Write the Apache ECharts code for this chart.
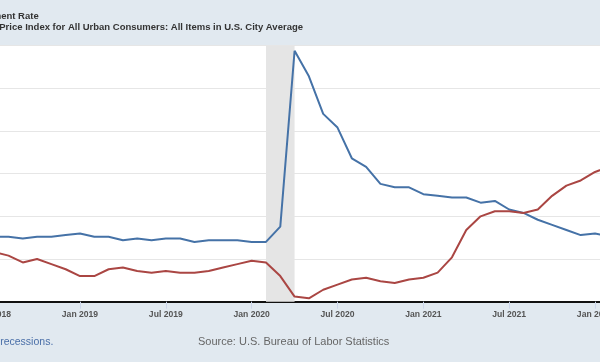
<!DOCTYPE html>
<html><head><meta charset="utf-8">
<script src="https://cdn.jsdelivr.net/npm/echarts@6/dist/echarts.min.js"></script>
<style>html,body{margin:0;padding:0;background:#e1e9f0}#c{width:600px;height:362px}</style>
</head><body><div id="c"></div>
<script>
// Monthly observations (first of month)
const months = ['2018-07','2018-08','2018-09','2018-10','2018-11','2018-12',
  '2019-01','2019-02','2019-03','2019-04','2019-05','2019-06','2019-07','2019-08','2019-09','2019-10','2019-11','2019-12',
  '2020-01','2020-02','2020-03','2020-04','2020-05','2020-06','2020-07','2020-08','2020-09','2020-10','2020-11','2020-12',
  '2021-01','2021-02','2021-03','2021-04','2021-05','2021-06','2021-07','2021-08','2021-09','2021-10','2021-11','2021-12',
  '2022-01','2022-02'];
// Unemployment Rate (%)
const unemploymentRate = [3.8,3.8,3.7,3.8,3.8,3.9,
  4.0,3.8,3.8,3.6,3.7,3.6,3.7,3.7,3.5,3.6,3.6,3.6,
  3.5,3.5,4.4,14.7,13.2,11.0,10.2,8.4,7.9,6.9,6.7,6.7,
  6.3,6.2,6.1,6.1,5.8,5.9,5.4,5.2,4.8,4.5,4.2,3.9,
  4.0,3.8];
// CPI-U, percent change from year ago
const cpiChange = [2.9,2.7,2.3,2.5,2.2,1.9,
  1.5,1.5,1.9,2.0,1.8,1.7,1.8,1.7,1.7,1.8,2.0,2.2,
  2.4,2.3,1.5,0.3,0.2,0.7,1.0,1.3,1.4,1.2,1.1,1.3,
  1.4,1.7,2.6,4.2,5.0,5.3,5.3,5.2,5.4,6.2,6.8,7.1,
  7.6,7.9];
const tickLabels = ['Jul 2018','Jan 2019','Jul 2019','Jan 2020','Jul 2020','Jan 2021','Jul 2021','Jan 2022','Jul 2022'];
const recession = ['2020-02','2020-04'];
const legendNames = ['Unemployment Rate','Consumer Price Index for All Urban Consumers: All Items in U.S. City Average'];
const sourceText = 'Source: U.S. Bureau of Labor Statistics';
const noteText = 'Shaded areas indicate U.S. recessions.';

function idx(s){const [y,m]=s.split('-').map(Number);return (y-2018)*12+(m-1);}
const FONT = "'Liberation Sans', Arial, sans-serif";

const chart = echarts.init(document.getElementById('c'));
chart.setOption({
  animation:false,
  backgroundColor:'#e1e9f0',
  grid:{left:-5.84,right:-80.86,top:45.6,bottom:60.3,outerBoundsMode:'none',containLabel:false,
    show:true,backgroundColor:'#ffffff',borderWidth:0},
  xAxis:{type:'value',min:6,max:54,interval:6,
    axisLine:{show:true,lineStyle:{color:'#111',width:2}},
    axisTick:{show:true,length:7,lineStyle:{color:'#ccd6eb',width:1}},
    splitLine:{show:false},
    axisLabel:{margin:8,fontSize:8.6,fontWeight:'bold',color:'#555',fontFamily:FONT,
      formatter:v=>{const i=(v-6)/6;return Number.isInteger(i)&&tickLabels[i]?tickLabels[i]:'';}}},
  yAxis:{type:'value',min:0,max:15,interval:2.5,
    axisLabel:{show:false},axisLine:{show:false},axisTick:{show:false},
    splitLine:{show:true,lineStyle:{color:'#e6e6e6',width:1}}},
  series:[
    {type:'line',data:[],silent:true,z:1,
      markArea:{silent:true,itemStyle:{color:'#e5e5e5'},data:[[{xAxis:idx(recession[0])},{xAxis:idx(recession[1])}]]}},
    {name:legendNames[0],type:'line',z:3,showSymbol:false,symbol:'none',
      lineStyle:{color:'#4572a7',width:2},
      data:months.map((m,i)=>[idx(m),unemploymentRate[i]])},
    {name:legendNames[1],type:'line',z:3,showSymbol:false,symbol:'none',
      lineStyle:{color:'#aa4643',width:2},
      data:months.map((m,i)=>[idx(m),cpiChange[i]])}
  ],
  graphic:[
    {type:'text',x:38.7,y:16,style:{text:legendNames[0],align:'right',verticalAlign:'middle',font:"bold 9.5px "+FONT,fill:'#333'}},
    {type:'text',x:303,y:27,style:{text:legendNames[1],align:'right',verticalAlign:'middle',font:"bold 9.5px "+FONT,fill:'#333'}},
    {type:'text',x:53.3,y:342,style:{text:noteText,align:'right',verticalAlign:'middle',font:"10.5px "+FONT,fill:'#4a6fa8'}},
    {type:'text',x:198,y:342,style:{text:sourceText,align:'left',verticalAlign:'middle',font:"11px "+FONT,fill:'#666'}}
  ]
});
</script></body></html>
